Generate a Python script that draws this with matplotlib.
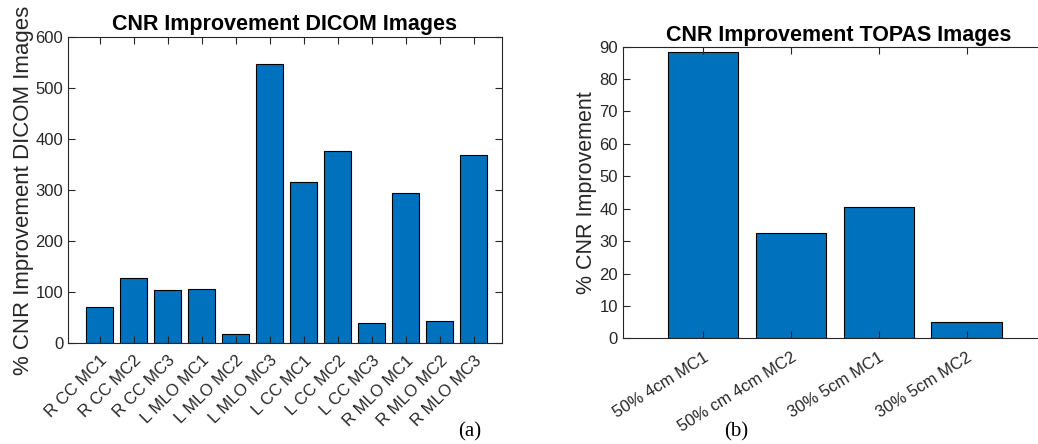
import matplotlib.pyplot as plt
import numpy as np

# CNR improvement for the clinical DICOM mammograms
dicom_labels = ['R CC MC1', 'R CC MC2', 'R CC MC3', 'L MLO MC1', 'L MLO MC2', 'L MLO MC3',
                'L CC MC1', 'L CC MC2', 'L CC MC3', 'R MLO MC1', 'R MLO MC2', 'R MLO MC3']
dicom_cnr = [71, 127, 103, 105, 18, 547, 316, 376, 39, 295, 44, 369]

# CNR improvement for the TOPAS simulated phantoms
topas_labels = ['50% 4cm MC1', '50% cm 4cm MC2', '30% 5cm MC1', '30% 5cm MC2']
topas_cnr = [88.3, 32.4, 40.4, 5.1]

bar_color = '#0072BD'
ax_color = '#262626'

plt.rcParams['font.family'] = ['Liberation Sans', 'DejaVu Sans']

fig = plt.figure(figsize=(10.38, 4.44), dpi=100)


def style_axes(ax, box=True):
    for s in ax.spines.values():
        s.set_color(ax_color)
        s.set_linewidth(0.8)
    ax.tick_params(direction='in', length=5, width=0.8, colors=ax_color,
                   top=box, right=box, labelsize=12)


# (a) DICOM images
ax1 = fig.add_axes([0.0655, 0.2275, 0.418, 0.689])
x1 = np.arange(1, len(dicom_cnr) + 1)
ax1.bar(x1, dicom_cnr, width=0.8, color=bar_color, edgecolor='black', linewidth=0.8)
ax1.set_xlim(0.07, 12.83)
ax1.set_ylim(0, 600)
ax1.set_xticks(x1)
ax1.set_xticklabels(dicom_labels, rotation=45, ha='right', rotation_mode='anchor', fontsize=9.5)
ax1.set_yticks(np.arange(0, 601, 100))
style_axes(ax1)
ax1.tick_params(axis='x', pad=7)
ax1.set_ylabel('% CNR Improvement DICOM Images', fontsize=16, color=ax_color, labelpad=1)
ax1.set_title('CNR Improvement DICOM Images', fontsize=15.5, fontweight='bold', pad=5)

# (b) TOPAS images
ax2 = fig.add_axes([0.6, 0.238, 0.416, 0.657])
x2 = np.arange(1, len(topas_cnr) + 1)
ax2.bar(x2, topas_cnr, width=0.8, color=bar_color, edgecolor='black', linewidth=0.8)
ax2.set_xlim(0.09, 5.0)
ax2.set_ylim(0, 90)
ax2.set_xticks(x2)
ax2.set_xticklabels(topas_labels, rotation=32, ha='right', rotation_mode='anchor', fontsize=9)
ax2.set_yticks(np.arange(0, 91, 10))
style_axes(ax2)
ax2.tick_params(axis='x', pad=8)
ax2.set_ylabel('% CNR Improvement', fontsize=15.5, color=ax_color, labelpad=2)
ax2.set_title('CNR Improvement TOPAS Images', fontsize=15.5, fontweight='bold', pad=4)

# panel letters
fig.text(470 / 1038, 1 - 432 / 444, '(a)', family='Liberation Serif', fontsize=15,
         ha='center', va='center')
fig.text(736 / 1038, 1 - 432 / 444, '(b)', family='Liberation Serif', fontsize=15,
         ha='center', va='center')

fig.savefig('out.png', dpi=100)
